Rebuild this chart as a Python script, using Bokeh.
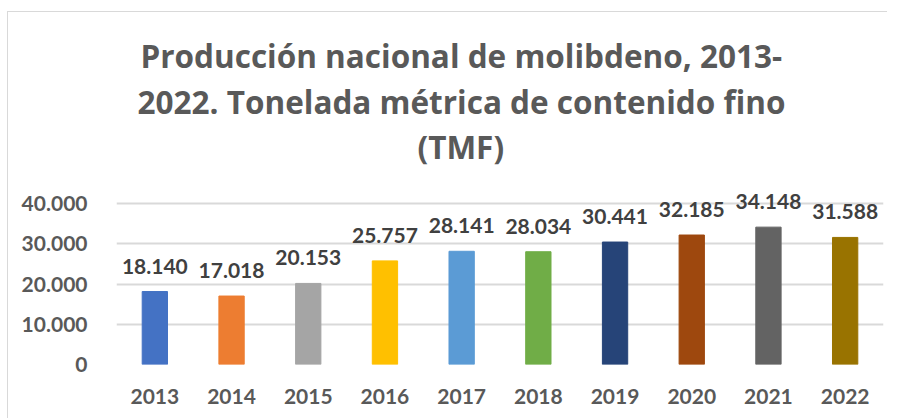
from bokeh.plotting import figure
from bokeh.models import ColumnDataSource, LabelSet, CustomJSTickFormatter, FixedTicker, Title
from bokeh.embed import file_html
from bokeh.resources import INLINE
from bokeh.core.properties import value

years = ["2013", "2014", "2015", "2016", "2017", "2018", "2019", "2020", "2021", "2022"]
production = [18140, 17018, 20153, 25757, 28141, 28034, 30441, 32185, 34148, 31588]
colors = ["#4472C4", "#ED7D31", "#A5A5A5", "#FFC000", "#5B9BD5",
          "#70AD47", "#264478", "#9E480E", "#636363", "#997300"]
y_ticks = [0, 10000, 20000, 30000, 40000]
title_lines = ["Producción nacional de molibdeno, 2013-",
               "2022. Tonelada métrica de contenido fino",
               "(TMF)"]

def fmt(v):
    return f"{v:,}".replace(",", ".")

src = ColumnDataSource(dict(year=years, val=production, color=colors,
                            lab=[fmt(v) for v in production]))

FONT = "Lato"
TFONT = "Open Sans"

p = figure(x_range=years, y_range=(0, 44000), width=880, height=407,
           output_backend="svg", toolbar_location=None,
           min_border_left=108, min_border_right=5, min_border_bottom=55,
           min_border_top=175)
p.title = None
p.styles = {"margin-top": "11px", "margin-left": "7px",
            "border-left": "1px solid #d9d9d9",
            "border-top": "1px solid #d9d9d9", "box-sizing": "border-box"}

# spacer between frame and title block
p.add_layout(Title(text=" ", text_font_size="1px", standoff=17), "above")
offsets = [301, 21, 24]   # for "(TMF)", line 2, line 1
standoffs = [0, 0, 2]
for line, off, so in zip(reversed(title_lines), offsets, standoffs):
    t = Title(text=line, align="left", offset=off, text_font=TFONT,
              text_font_size="31.5px", text_color="#595959",
              text_font_style="bold", standoff=so)
    p.add_layout(t, "above")

p.vbar(x="year", top="val", width=0.33, color="color", source=src)

labels = LabelSet(x="year", y="val", text="lab", source=src, text_align="center",
                  text_baseline="alphabetic", y_offset=18, text_font=value(FONT),
                  text_font_size="21px", text_font_style="bold", text_color="#404040")
p.add_layout(labels)

p.yaxis.ticker = FixedTicker(ticks=y_ticks)
p.yaxis.formatter = CustomJSTickFormatter(
    code="return tick.toFixed(0).replace(/\\B(?=(\\d{3})+(?!\\d))/g, '.');")
for ax in (p.xaxis, p.yaxis):
    ax.axis_line_color = None
    ax.major_tick_line_color = None
    ax.minor_tick_line_color = None
    ax.major_label_text_font = FONT
    ax.major_label_text_font_size = "21px"
    ax.major_label_text_font_style = "bold"
    ax.major_label_text_color = "#595959"
p.yaxis.major_label_standoff = 23
p.xaxis.major_label_standoff = 18

p.xgrid.grid_line_color = None
p.ygrid.grid_line_color = "#d9d9d9"
p.ygrid.grid_line_width = 2
p.outline_line_color = None
p.x_range.range_padding = 0

open("out.html", "w").write(file_html(p, INLINE))
